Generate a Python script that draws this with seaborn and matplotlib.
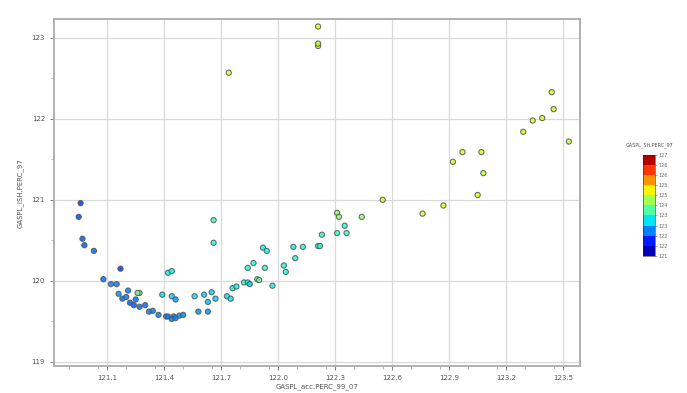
import numpy as np
import pandas as pd
import matplotlib
matplotlib.use('Agg')
import matplotlib.pyplot as plt
import seaborn as sns
from matplotlib.colors import ListedColormap, BoundaryNorm, Normalize
from matplotlib.ticker import MultipleLocator

# ── Data ───────────────────────────────────────────────────────────────
x_vals = [120.96, 120.95, 120.97, 120.98, 121.03, 121.17, 121.08, 121.12, 121.15,
          121.16, 121.21, 121.18, 121.22, 121.24, 121.27, 121.32, 121.34, 121.37,
          121.41, 121.42, 121.45, 121.48, 121.50, 121.20, 121.25, 121.30, 121.44,
          121.46, 121.27, 121.26, 121.42, 121.44, 121.39, 121.44, 121.46, 121.56,
          121.58, 121.63, 121.61, 121.65, 121.63, 121.67, 121.66, 121.66, 121.73,
          121.75, 121.76, 121.78, 121.82, 121.84, 121.84, 121.87, 121.89, 121.85,
          121.90, 121.92, 121.94, 121.93, 121.97, 122.03, 122.04, 122.08, 122.09,
          122.13, 122.21, 122.22, 122.23, 122.31, 122.32, 122.31, 122.36, 122.35,
          122.44, 122.55, 122.76, 122.87, 123.05, 122.92, 122.97, 123.07, 123.08,
          123.29, 123.34, 123.39, 123.45, 123.44, 123.53, 121.74, 122.21, 122.21,
          122.21]
y_vals = [120.96, 120.79, 120.52, 120.44, 120.37, 120.15, 120.02, 119.96, 119.96,
          119.84, 119.88, 119.78, 119.73, 119.70, 119.68, 119.62, 119.63, 119.58,
          119.56, 119.56, 119.56, 119.57, 119.58, 119.80, 119.77, 119.70, 119.53,
          119.54, 119.85, 119.85, 120.10, 120.12, 119.83, 119.81, 119.77, 119.81,
          119.62, 119.62, 119.83, 119.86, 119.74, 119.78, 120.75, 120.47, 119.81,
          119.78, 119.91, 119.93, 119.98, 119.98, 120.16, 120.22, 120.02, 119.96,
          120.01, 120.41, 120.37, 120.16, 119.94, 120.19, 120.11, 120.42, 120.28,
          120.42, 120.43, 120.43, 120.57, 120.84, 120.79, 120.59, 120.59, 120.68,
          120.79, 121.00, 120.83, 120.93, 121.06, 121.47, 121.59, 121.59, 121.33,
          121.84, 121.98, 122.01, 122.12, 122.33, 121.72, 122.57, 123.14, 122.90,
          122.93]
c_vals = [122.1, 122.2, 122.3, 122.3, 122.4, 122.1, 122.4, 122.5, 122.5,
          122.6, 122.5, 122.4, 122.3, 122.3, 122.4, 122.5, 122.5, 122.5,
          122.5, 122.5, 122.5, 122.6, 122.6, 122.5, 122.4, 122.4, 122.5,
          122.5, 124.1, 123.9, 123.2, 123.2, 123.1, 123.0, 122.7, 123.1,
          122.6, 122.6, 123.0, 123.0, 122.9, 123.0, 123.6, 123.3, 123.1,
          123.1, 123.2, 123.2, 123.3, 123.3, 123.4, 123.4, 123.7, 123.0,
          123.9, 123.2, 123.2, 123.5, 123.2, 123.3, 123.3, 123.2, 123.3,
          123.3, 123.4, 123.4, 123.4, 124.1, 124.2, 123.5, 123.5, 123.3,
          124.2, 124.6, 124.6, 124.7, 124.7, 124.7, 124.6, 124.7, 124.5,
          124.6, 124.7, 124.7, 124.6, 124.6, 124.5, 124.6, 124.7, 124.6,
          124.6]

x_ticks = [121.1, 121.4, 121.7, 122.0, 122.3, 122.6, 122.9, 123.2, 123.5]
y_ticks = [119, 120, 121, 122, 123]
cbar_bounds = [121.0, 121.6, 122.2, 122.8, 123.4, 124.0, 124.6, 125.2, 125.8, 126.4, 127.0]
cbar_labels = ['121', '122', '122', '123', '123', '124', '125', '125', '126', '126', '127']

df = pd.DataFrame({'x': x_vals, 'y': y_vals, 'c': c_vals})

# ── Style ──────────────────────────────────────────────────────────────
sns.set_theme(style='white')
plt.rcParams['font.family'] = ['DejaVu Sans']

jet = plt.get_cmap('jet')

fig = plt.figure(figsize=(6.87, 3.93), dpi=100)
ax = fig.add_axes([0.0786, 0.069, 0.766, 0.882])

sns.scatterplot(data=df, x='x', y='y', hue='c', palette=jet,
                hue_norm=Normalize(121, 127), legend=False, s=14, alpha=0.85,
                edgecolor='#555555', linewidth=0.8, ax=ax)

ax.set_xlim(120.82, 123.59)
ax.set_ylim(118.95, 123.23)
ax.set_xticks(x_ticks)
ax.set_xticklabels([f'{v:.1f}' for v in x_ticks])
ax.set_yticks(y_ticks)
ax.xaxis.set_minor_locator(MultipleLocator(0.15))
ax.yaxis.set_minor_locator(MultipleLocator(0.5))
ax.grid(True, which='major', color='#d9d9d9', linewidth=0.9)
ax.tick_params(axis='both', which='major', labelsize=5, length=3, width=0.6,
               colors='#666666', labelcolor='#555555', direction='out',
               bottom=True, left=True)
ax.tick_params(axis='both', which='minor', length=2, width=0.5, colors='#999999',
               bottom=True, left=True)
for sp in ax.spines.values():
    sp.set_color('#b0b0b0')
    sp.set_linewidth(1.4)

ax.set_xlabel('GASPL_acc.PERC_99_07', fontsize=5, color='#555555', labelpad=2)
ax.set_ylabel('GASPL_ISH.PERC_97', fontsize=5, color='#555555', labelpad=6)

# ── Colour bar ─────────────────────────────────────────────────────────
cmap = ListedColormap(jet(np.linspace(0.05, 0.95, len(cbar_bounds) - 1)))
norm = BoundaryNorm(cbar_bounds, cmap.N)
cax = fig.add_axes([0.936, 0.349, 0.0175, 0.257])
sm = plt.cm.ScalarMappable(cmap=cmap, norm=norm)
cb = fig.colorbar(sm, cax=cax, ticks=cbar_bounds)
cb.ax.set_yticklabels(cbar_labels)
cb.ax.tick_params(labelsize=3.5, length=1.5, width=0.4, colors='#666666', pad=1)
cb.outline.set_linewidth(0.4)
fig.text(0.945, 0.628, 'GASPL_SH.PERC_97', fontsize=3.5, color='#555555', ha='center')

fig.savefig('out.png', dpi=100)
